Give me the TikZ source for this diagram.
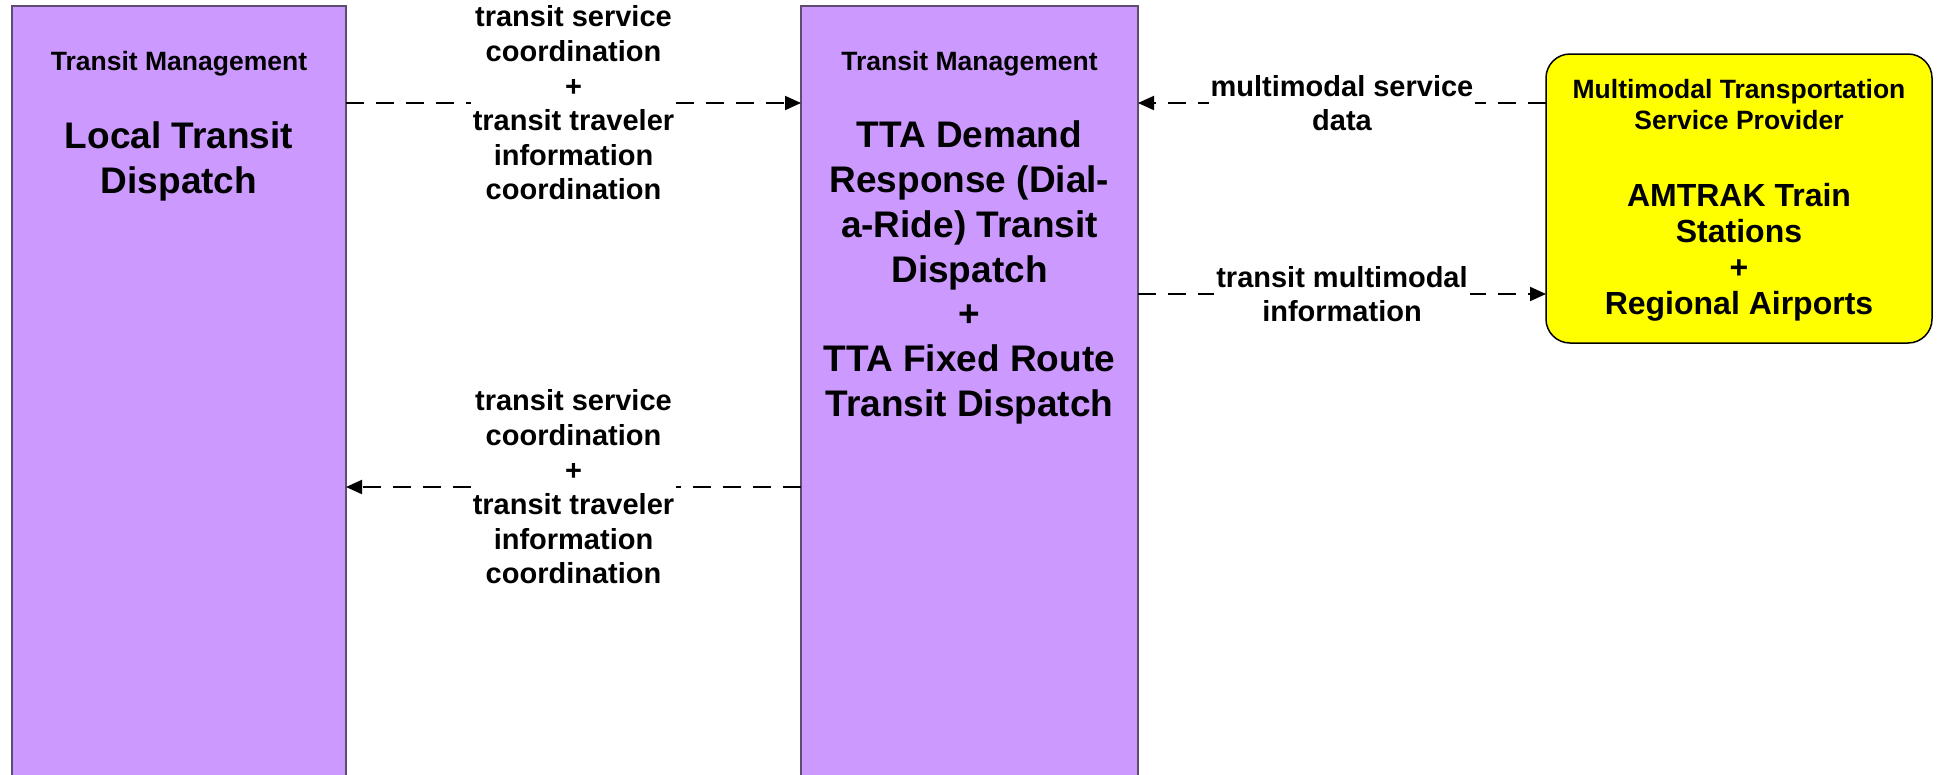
\documentclass[tikz,border=0pt]{standalone}
\usepackage{fontspec}
\setmainfont{Liberation Sans}
\usetikzlibrary{arrows.meta}
\definecolor{tmpurple}{HTML}{CC99FF}
\definecolor{tmborder}{HTML}{5E4D6E}
\definecolor{tmyellow}{HTML}{FFFF00}
\tikzset{
  tmbox/.style={draw=tmborder, line width=1.5pt, fill=tmpurple, inner sep=0pt, outer sep=0pt, anchor=north west},
  ybox/.style={draw=black, line width=1.5pt, fill=tmyellow, rounded corners=24pt, inner sep=0pt, outer sep=0pt, anchor=north west},
  flow/.style={line width=2pt, dash pattern=on 18pt off 12pt, -{Triangle[length=16pt,width=14pt]}},
  lbl/.style={fill=white, inner sep=2pt, align=center, font=\bfseries\fontsize{29}{34.6}\selectfont},
  ttl/.style={inner sep=0pt, align=center, font=\bfseries\fontsize{26.5}{31}\selectfont},
  bigname/.style={inner sep=0pt, align=center, font=\bfseries\fontsize{37}{44.8}\selectfont},
  yname/.style={inner sep=0pt, align=center, font=\bfseries\fontsize{32}{36}\selectfont}
}
\begin{document}
\begin{tikzpicture}[x=1pt,y=-1pt]
\useasboundingbox (0,0) rectangle (1939,774);
\clip (0,0) rectangle (1939,774);
\fill[white] (0,0) rectangle (1939,774);
% boxes
\node[tmbox, minimum width=334pt, minimum height=900pt] (L) at (12,6) {};
\node[tmbox, minimum width=337pt, minimum height=900pt] (M) at (801,6) {};
\node[ybox, minimum width=386pt, minimum height=289pt] (Y) at (1546,54) {};
% box texts
\node[ttl] (Lt) at (179,64) {Transit Management};
\node[bigname] (Ln) at (179,161.5) {Local Transit\\Dispatch};
\node[ttl] (Mt) at (969.5,64) {Transit Management};
\node[bigname] (Mn) at (969.5,272.5) {TTA Demand\\Response (Dial-\\a-Ride) Transit\\Dispatch\\+\\TTA Fixed Route\\Transit Dispatch};
\node[ttl] (Yt) at (1739,104.5) {Multimodal Transportation\\Service Provider};
\node[yname] (Yn) at (1739,252) {AMTRAK Train\\Stations\\+\\Regional Airports};
% connector levels
\coordinate (c1) at (0,103);
\coordinate (c2) at (0,487);
\coordinate (c3) at (0,294);
% connectors
\draw[flow] (L.east |- c1) -- node[lbl] {transit service\\coordination\\+\\transit traveler\\information\\coordination} (M.west |- c1);
\draw[flow] (M.west |- c2) -- node[lbl] {transit service\\coordination\\+\\transit traveler\\information\\coordination} (L.east |- c2);
\draw[flow] (Y.west |- c1) -- node[lbl] {multimodal service\\data} (M.east |- c1);
\draw[flow] (M.east |- c3) -- node[lbl] {transit multimodal\\information} (Y.west |- c3);
\end{tikzpicture}
\end{document}
